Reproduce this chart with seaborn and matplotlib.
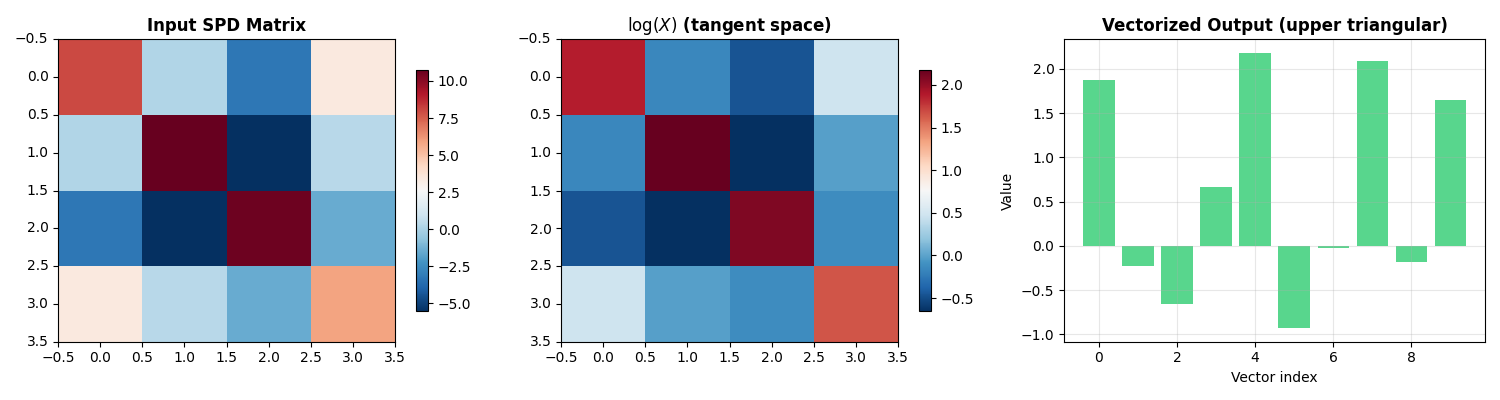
import numpy as np
import seaborn as sns
import matplotlib.pyplot as plt
from matplotlib.ticker import FuncFormatter

spd_matrix = np.array([
    [8.0, 0.16, -3.27, 3.4],
    [0.16, 10.77, -5.56, 0.32],
    [-3.27, -5.56, 10.6, -1.48],
    [3.4, 0.32, -1.48, 5.87],
])

# Matrix logarithm (tangent space)
log_matrix = np.array([
    [1.876, -0.159, -0.466, 0.469],
    [-0.159, 2.18, -0.657, -0.016],
    [-0.466, -0.657, 2.09, -0.127],
    [0.469, -0.016, -0.127, 1.652],
])

# Vectorized upper triangular output
vec_index = [0, 1, 2, 3, 4, 5, 6, 7, 8, 9]
vec_values = [1.876, -0.225, -0.659, 0.663, 2.18, -0.929, -0.022, 2.09, -0.18, 1.652]

fig, axes = plt.subplots(1, 3, figsize=(15, 4), dpi=100)

# imshow-style tick labels on top of seaborn heatmaps
pix_fmt = FuncFormatter(lambda v, pos: f"{v - 0.5:.1f}".replace('-', '\u2212'))


def draw_matrix(ax, mat, title):
    sns.heatmap(mat, cmap='RdBu_r', ax=ax, cbar_kws={'shrink': 0.8})
    ticks = np.arange(0, 4.01, 0.5)
    ax.set_xticks(ticks)
    ax.set_yticks(ticks)
    ax.xaxis.set_major_formatter(pix_fmt)
    ax.yaxis.set_major_formatter(pix_fmt)
    ax.tick_params(axis='both', labelsize=10, length=3.5)
    plt.setp(ax.get_xticklabels(), rotation=0)
    plt.setp(ax.get_yticklabels(), rotation=0)
    for s in ax.spines.values():
        s.set_visible(True)
        s.set_linewidth(0.8)
    cbar = ax.collections[0].colorbar
    cbar.outline.set_linewidth(0.8)
    cbar.ax.tick_params(labelsize=10)
    ax.set_title(title, fontsize=12, fontweight='bold')


draw_matrix(axes[0], spd_matrix, 'Input SPD Matrix')
draw_matrix(axes[1], log_matrix, r'$\log(X)$ (tangent space)')

ax = axes[2]
sns.barplot(x=vec_index, y=vec_values, native_scale=True, color='#2ecc71',
            alpha=0.8, saturation=1, width=0.8, ax=ax)
ax.set_xlim(-0.89, 9.89)
ax.set_title('Vectorized Output (upper triangular)', fontsize=12, fontweight='bold')
ax.set_xlabel('Vector index')
ax.set_ylabel('Value')
ax.grid(True, alpha=0.3)

plt.tight_layout()
plt.savefig('out.png')
plt.close()
